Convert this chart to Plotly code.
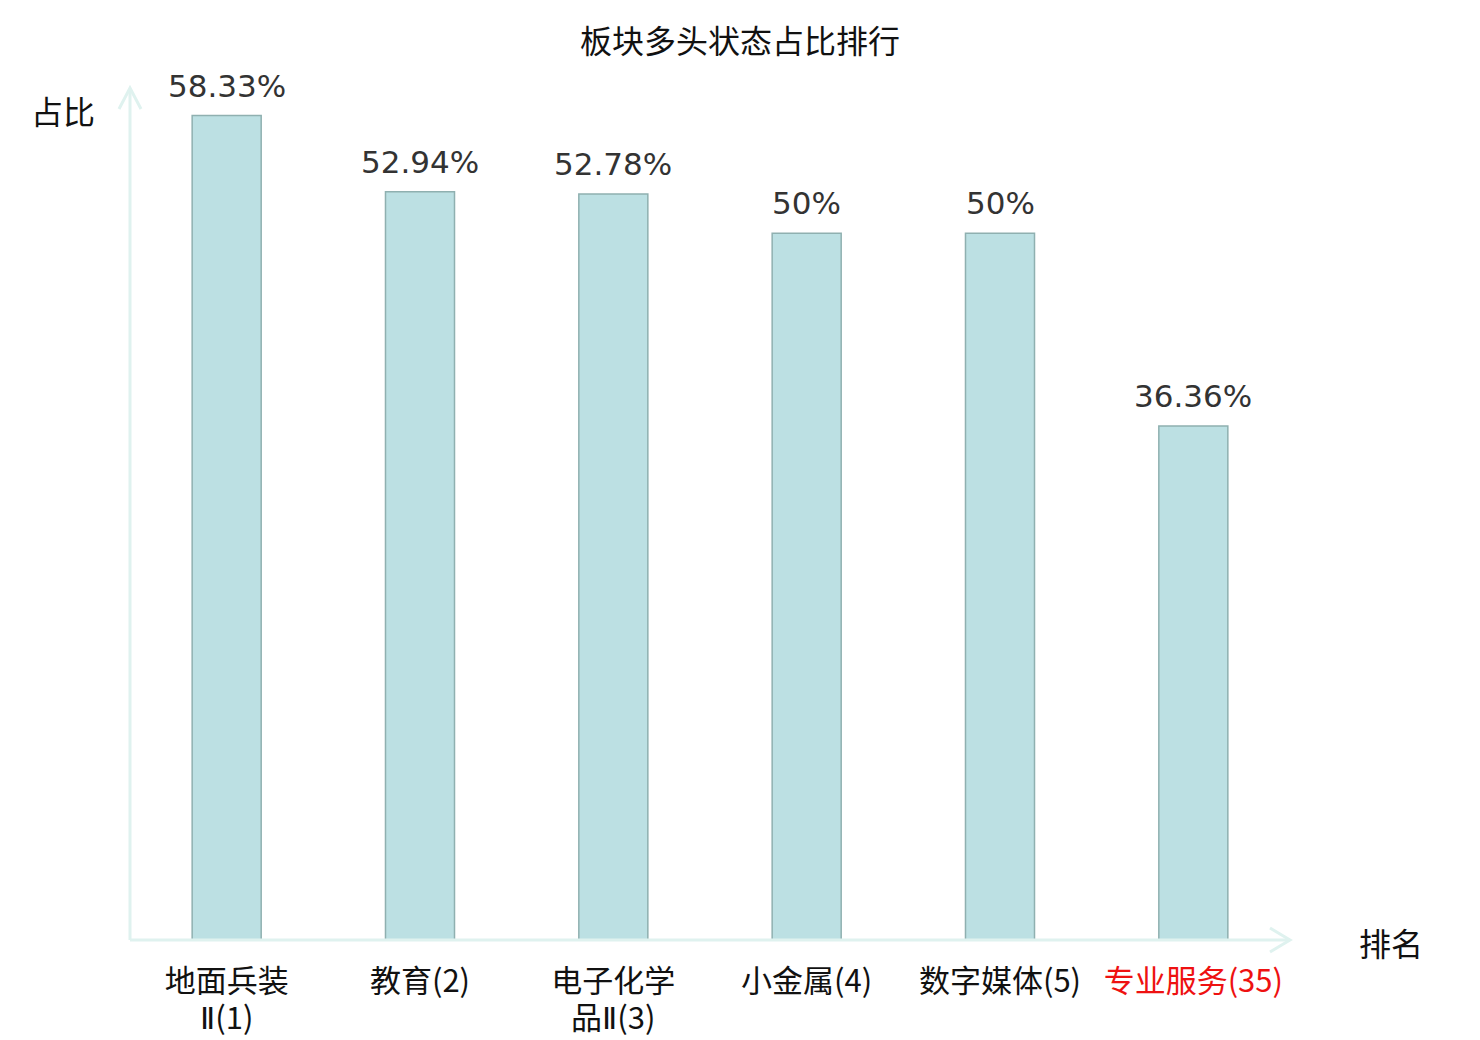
import plotly.graph_objects as go

# ---- data ----
categories = ["地面兵装Ⅱ(1)", "教育(2)", "电子化学品Ⅱ(3)", "小金属(4)", "数字媒体(5)", "专业服务(35)"]
tick_line1 = ["地面兵装", "教育(2)", "电子化学", "小金属(4)", "数字媒体(5)",
              "<span style='color:#ee1111'>专业服务(35)</span>"]
tick_line2 = ["<span style='font-family:DejaVu Sans'>Ⅱ</span>(1)", "",
              "品<span style='font-family:DejaVu Sans'>Ⅱ</span>(3)", "", "", ""]
values = [58.33, 52.94, 52.78, 50, 50, 36.36]
value_labels = ["58.33%", "52.94%", "52.78%", "50%", "50%", "36.36%"]
title_text = "板块多头状态占比排行"
y_name = "占比"
x_name = "排名"

W, H = 1480, 1040
ML, MT = 130, 92
PW, PH = 1160, 848
MR, MB = W - ML - PW, H - MT - PH

def px(x):
    return (x - ML) / PW

def py(y):
    return (MT + PH - y) / PH

CJK = "Noto Sans CJK SC"
AXIS_COLOR = "#dff2ef"

x_idx = list(range(len(categories)))

fig = go.Figure()
fig.add_trace(go.Bar(
    x=x_idx, y=values, width=0.357,
    marker=dict(color="#bce0e3", line=dict(color="#8fb0b0", width=1.5)),
    hoverinfo="skip",
))

annotations = []
for i, (v, t) in enumerate(zip(values, value_labels)):
    annotations.append(dict(
        x=i, y=v, xref="x", yref="y", text=t, showarrow=False,
        yanchor="bottom", yshift=10,
        font=dict(family="DejaVu Sans", size=31, color="#333333"),
    ))

# second lines of the wrapped category labels (tight line spacing like the reference)
for i, t in enumerate(tick_line2):
    if t:
        annotations.append(dict(
            x=i, y=0, xref="x", yref="paper", text=t, showarrow=False,
            yanchor="middle", yshift=-75,
            font=dict(family=CJK, size=31, color="#111111"),
        ))

annotations.append(dict(
    x=px(63), y=py(110), xref="paper", yref="paper", text=y_name, showarrow=False,
    xanchor="center", yanchor="middle", font=dict(family=CJK, size=32, color="#111111"),
))
annotations.append(dict(
    x=px(1391), y=py(942), xref="paper", yref="paper", text=x_name, showarrow=False,
    xanchor="center", yanchor="middle", font=dict(family=CJK, size=32, color="#111111"),
))

shapes = [
    dict(type="line", xref="paper", yref="paper", x0=px(130), y0=py(940), x1=px(1289), y1=py(940),
         line=dict(color=AXIS_COLOR, width=3), layer="above"),
    dict(type="line", xref="paper", yref="paper", x0=px(130), y0=py(940), x1=px(130), y1=py(90),
         line=dict(color=AXIS_COLOR, width=3), layer="above"),
    dict(type="path", xref="paper", yref="paper",
         path=f"M {px(1270)} {py(928)} L {px(1290)} {py(940)} L {px(1270)} {py(952)}",
         line=dict(color=AXIS_COLOR, width=3)),
    dict(type="path", xref="paper", yref="paper",
         path=f"M {px(119)} {py(109)} L {px(130)} {py(88)} L {px(141)} {py(109)}",
         line=dict(color=AXIS_COLOR, width=3)),
]

fig.update_layout(
    width=W, height=H,
    margin=dict(l=ML, r=MR, t=MT, b=MB, autoexpand=False),
    paper_bgcolor="white", plot_bgcolor="white",
    showlegend=False,
    title=dict(text=title_text, x=0.5, xref="container", xanchor="center",
               y=1 - 42 / H, yref="container", yanchor="middle",
               font=dict(family=CJK, size=32, color="#111111")),
    xaxis=dict(
        range=[-0.5, len(categories) - 0.5],
        tickmode="array", tickvals=x_idx, ticktext=tick_line1,
        showgrid=False, zeroline=False, showline=False, ticks="",
        tickfont=dict(family=CJK, size=31, color="#111111"),
        ticklabelstandoff=20, automargin=False,
    ),
    yaxis=dict(range=[0, 60], showgrid=False, zeroline=False, showline=False,
               showticklabels=False, ticks="", automargin=False),
    annotations=annotations,
    shapes=shapes,
)

fig.write_html("out.html", config={"displayModeBar": False},
               post_script="document.body.style.margin='0px';document.body.style.overflow='hidden';")
